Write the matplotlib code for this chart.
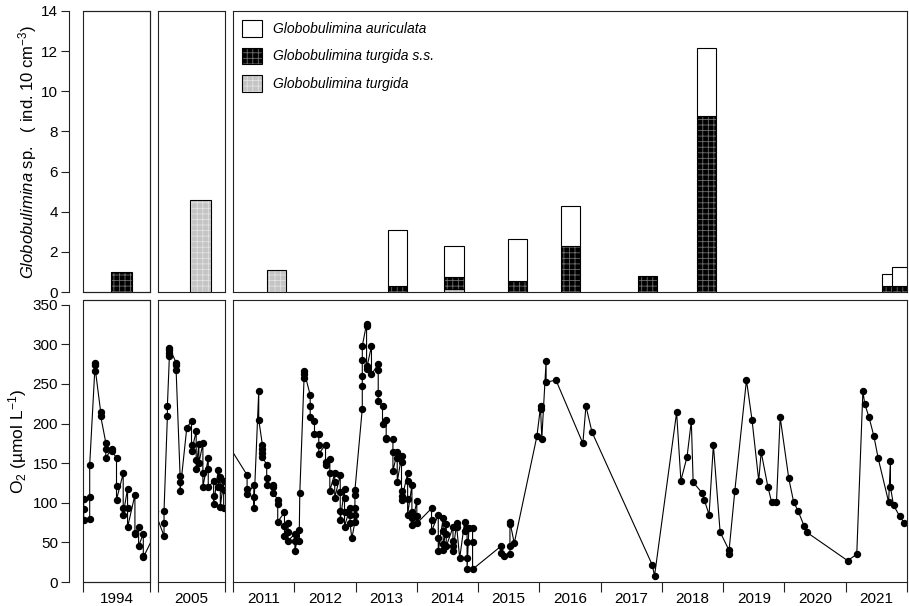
import numpy as np
import matplotlib.pyplot as plt
from matplotlib.patches import Patch, Rectangle
from matplotlib.legend_handler import HandlerTuple

plt.rcParams['font.family'] = ['Liberation Sans', 'DejaVu Sans']
plt.rcParams['mathtext.fontset'] = 'custom'
plt.rcParams['mathtext.rm'] = 'Liberation Sans'
plt.rcParams['mathtext.it'] = 'Liberation Sans:italic'
plt.rcParams['hatch.linewidth'] = 0.6

# Globobulimina densities (ind. 10 cm-3), stacked: turgida / turgida s.s. / auriculata
bar_date = [1994.58, 2005.63, 2011.70, 2013.65, 2014.56, 2015.58, 2016.44, 2017.68, 2018.63, 2021.61, 2021.77]
turgida = [0, 4.6, 1.1, 0, 0.15, 0, 0, 0, 0, 0, 0]
turgida_ss = [1.0, 0, 0, 0.3, 0.6, 0.55, 2.3, 0.8, 8.75, 0.3, 0.3]
auriculata = [0, 0, 0, 2.8, 1.55, 2.1, 2.0, 0, 3.4, 0.58, 0.93]
legend_labels = ['Globobulimina auriculata', 'Globobulimina turgida s.s.', 'Globobulimina turgida']

# bottom-water O2 (umol/L)
o2_1994_date = [1994.01, 1994.01, 1994.01, 1994.10, 1994.10, 1994.10, 1994.175, 1994.175, 1994.175,
                1994.265, 1994.265, 1994.34, 1994.34, 1994.34, 1994.43, 1994.43,
                1994.50, 1994.50, 1994.50, 1994.60, 1994.60, 1994.60, 1994.665, 1994.665, 1994.665,
                1994.775, 1994.775, 1994.775, 1994.83, 1994.83, 1994.90, 1994.90, 1994.90, 1995.05]
o2_1994 = [105, 92, 78, 80, 107, 148, 266, 277, 274,
           214, 209, 176, 168, 157, 168, 165,
           157, 121, 104, 137, 94, 85, 118, 94, 69,
           110, 62, 60, 70, 45, 61, 33, 31, 57]

o2_2005_date = [2004.95, 2005.09, 2005.09, 2005.09, 2005.14, 2005.14, 2005.17, 2005.17, 2005.17, 2005.17,
                2005.27, 2005.27, 2005.27, 2005.33, 2005.33, 2005.33, 2005.43,
                2005.50, 2005.50, 2005.50, 2005.57, 2005.57, 2005.57, 2005.61, 2005.61,
                2005.67, 2005.67, 2005.67, 2005.75, 2005.75, 2005.75, 2005.83, 2005.83, 2005.83,
                2005.90, 2005.90, 2005.93, 2005.93, 2005.93, 2005.98, 2005.98, 2005.98]
o2_2005 = [90, 58, 74, 90, 209, 222, 285, 289, 293, 296,
           277, 274, 268, 134, 126, 115, 195,
           203, 173, 165, 190, 154, 143, 174, 150,
           175, 137, 120, 156, 143, 120, 127, 109, 98,
           142, 120, 133, 120, 95, 128, 116, 93]

o2_main_date = [2010.90,
                2011.23, 2011.23, 2011.23, 2011.34, 2011.34, 2011.34, 2011.42, 2011.42,
                2011.48, 2011.48, 2011.48, 2011.48, 2011.55, 2011.55, 2011.55, 2011.66, 2011.66, 2011.66,
                2011.73, 2011.73, 2011.73, 2011.84, 2011.84, 2011.84, 2011.90, 2011.90, 2011.90,
                2012.01, 2012.01, 2012.01, 2012.08, 2012.08, 2012.09,
                2012.16, 2012.16, 2012.16, 2012.26, 2012.26, 2012.26, 2012.33, 2012.33,
                2012.40, 2012.40, 2012.40, 2012.51, 2012.51, 2012.51, 2012.58, 2012.58, 2012.58,
                2012.66, 2012.66, 2012.66, 2012.75, 2012.75, 2012.75, 2012.75,
                2012.82, 2012.82, 2012.82, 2012.82, 2012.91, 2012.91, 2012.91, 2012.94,
                2012.99, 2012.99, 2012.99, 2012.99, 2012.99,
                2013.11, 2013.11, 2013.11, 2013.11, 2013.11, 2013.18, 2013.18, 2013.18, 2013.18,
                2013.26, 2013.26, 2013.37, 2013.37, 2013.37, 2013.37, 2013.44, 2013.44,
                2013.50, 2013.50, 2013.50, 2013.61, 2013.61, 2013.61, 2013.68, 2013.68, 2013.68,
                2013.75, 2013.75, 2013.75, 2013.75, 2013.75, 2013.85, 2013.85, 2013.85, 2013.85,
                2013.92, 2013.92, 2013.92, 2013.92, 2014.00, 2014.00, 2014.00,
                2014.24, 2014.24, 2014.24, 2014.35, 2014.35, 2014.35, 2014.43, 2014.43, 2014.43, 2014.43,
                2014.48, 2014.48, 2014.48, 2014.59, 2014.59, 2014.59, 2014.59, 2014.65, 2014.65,
                2014.70, 2014.78, 2014.78, 2014.82, 2014.82, 2014.82, 2014.82, 2014.85,
                2014.91, 2014.91, 2014.91,
                2015.37, 2015.37, 2015.43, 2015.52, 2015.52, 2015.52, 2015.52, 2015.59,
                2015.96, 2016.02, 2016.02, 2016.04, 2016.11, 2016.11, 2016.27,
                2016.71, 2016.76, 2016.86, 2017.84, 2017.88,
                2018.24, 2018.31, 2018.41, 2018.48, 2018.51, 2018.66, 2018.69, 2018.77, 2018.84, 2018.95,
                2019.09, 2019.09, 2019.19, 2019.38, 2019.47, 2019.58, 2019.62, 2019.73, 2019.79, 2019.87,
                2019.93, 2020.07, 2020.15, 2020.22, 2020.32, 2020.36,
                2021.03, 2021.18, 2021.28, 2021.31, 2021.38, 2021.46, 2021.53,
                2021.70, 2021.73, 2021.73, 2021.78, 2021.88, 2021.95]
o2_main = [176,
           135, 118, 111, 122, 107, 93, 241, 205,
           173, 168, 163, 158, 148, 131, 123, 122, 120, 112,
           104, 98, 76, 88, 71, 58, 74, 63, 52,
           61, 52, 39, 66, 52, 112,
           258, 262, 266, 236, 222, 208, 203, 187,
           187, 173, 162, 173, 151, 148, 155, 137, 115,
           137, 126, 106, 135, 114, 90, 78,
           118, 106, 88, 70, 94, 85, 74, 55,
           76, 85, 93, 110, 116,
           219, 247, 260, 280, 298, 326, 323, 273, 269,
           298, 262, 275, 268, 239, 229, 222, 200,
           205, 182, 180, 180, 164, 140, 164, 156, 126,
           159, 152, 115, 109, 103, 137, 128, 105, 85,
           122, 88, 81, 72, 102, 83, 74,
           93, 78, 64, 85, 55, 39, 81, 64, 48, 41,
           73, 60, 45, 69, 52, 45, 39, 74, 70,
           30, 76, 64, 68, 51, 30, 16, 68,
           68, 51, 16,
           45, 36, 33, 35, 45, 73, 76, 49,
           184, 222, 218, 181, 279, 252, 255,
           175, 222, 189, 22, 8,
           214, 128, 158, 203, 126, 112, 104, 85, 173, 63,
           41, 35, 115, 255, 205, 128, 164, 120, 101, 101,
           208, 131, 101, 90, 71, 63,
           27, 35, 241, 225, 208, 184, 156,
           101, 153, 120, 97, 83, 75]

o2_series = [(o2_1994_date, o2_1994), (o2_2005_date, o2_2005), (o2_main_date, o2_main)]
year_labels = [[1994], [2005], list(range(2011, 2022))]

W, H = 909, 606
fig = plt.figure(figsize=(W / 100, H / 100), dpi=100)

# panel extents in pixels
cols = [(83, 150, 1994.0, 1995.0), (158, 225, 2005.0, 2006.0), (233, 907, 2011.0, 2021.86)]
rows = [(11, 292), (300, 582)]


def add_ax(x0, x1, y0, y1):
    return fig.add_axes([x0 / W, 1 - y1 / H, (x1 - x0) / W, (y1 - y0) / H])


def draw_bars(ax):
    x = np.array(bar_date)
    t = np.array(turgida, dtype=float)
    s = np.array(turgida_ss, dtype=float)
    a = np.array(auriculata, dtype=float)
    layers = [(t, 0 * t, '#c4c4c4', '#e2e2e2'),
              (s, t, 'black', '#6e6e6e'),
              (a, t + s, 'white', None)]
    for h, b, fc, hc in layers:
        m = h > 0
        if hc is not None:
            ax.bar(x[m], h[m], bottom=b[m], width=0.31, color=fc, edgecolor=hc,
                   hatch='+++', linewidth=0)
            ax.bar(x[m], h[m], bottom=b[m], width=0.31, color='none',
                   edgecolor='black', linewidth=0.8)
        else:
            ax.bar(x[m], h[m], bottom=b[m], width=0.31, color=fc,
                   edgecolor='black', linewidth=0.8)


edge = '#222222'
for i, (x0, x1, xa, xb) in enumerate(cols):
    top = add_ax(x0, x1, *rows[0])
    bot = add_ax(x0, x1, *rows[1])

    draw_bars(top)
    top.set_ylim(0, 14)
    top.set_xticks([])

    dates, vals = o2_series[i]
    bot.plot(dates, vals, '-o', color='black', lw=0.8, ms=4.3)
    bot.set_ylim(0, 356)

    for ax in (top, bot):
        ax.set_xlim(xa, xb)
        for sp in ax.spines.values():
            sp.set_color(edge)
            sp.set_linewidth(0.8)

    # bottom axis: ticks at year boundaries, labels centred in each year
    yrs = year_labels[i]
    bot.set_xticks([y for y in yrs] + [yrs[-1] + 1])
    bot.set_xticklabels([])
    bot.set_xticks([y + 0.5 for y in yrs], minor=True)
    bot.set_xticklabels([str(y) for y in yrs], minor=True, fontsize=11)
    bot.tick_params(axis='x', which='major', direction='out', length=7, width=0.8, color=edge)
    bot.tick_params(axis='x', which='minor', length=0, pad=7)

    if i == 0:
        for ax, lim, ticks in ((top, 14, np.arange(0, 15, 2)), (bot, 350, np.arange(0, 351, 50))):
            ax.spines['left'].set_position(('outward', 10))
            ax.spines['left'].set_bounds(0, lim)
            ax.add_patch(Rectangle((0, 0), 1, 1, transform=ax.transAxes, fill=False,
                                   lw=0.8, edgecolor=edge, clip_on=False))
            ax.set_yticks(ticks)
            ax.tick_params(axis='y', direction='out', length=6, width=0.8, color=edge,
                           labelsize=11, pad=2)
        top.set_ylabel(r'$\mathit{Globobulimina}$ sp.   ( ind. 10 cm$^{\mathrm{-3}}$)', fontsize=12)
        top.yaxis.set_label_coords(-0.66, 0.5)
        bot.set_ylabel(r'O$_{\mathrm{2}}$ (µmol L$^{\mathrm{-1}}$)', fontsize=12.5)
        bot.yaxis.set_label_coords(-0.80, 0.5)
    else:
        top.set_yticks([])
        bot.set_yticks([])

    if i == 2:
        handles = [Patch(facecolor='white', edgecolor='black', lw=0.8),
                   (Patch(facecolor='black', edgecolor='#6e6e6e', hatch='+++', lw=0),
                    Patch(facecolor='none', edgecolor='black', lw=0.8)),
                   (Patch(facecolor='#c4c4c4', edgecolor='#e2e2e2', hatch='+++', lw=0),
                    Patch(facecolor='none', edgecolor='black', lw=0.8))]
        top.legend(handles, legend_labels, handler_map={tuple: HandlerTuple(ndivide=1, pad=0)},
                   loc='upper left', frameon=False, prop={'style': 'italic', 'size': 10},
                   handlelength=1.45, handleheight=1.45, labelspacing=0.8,
                   handletextpad=0.75, borderpad=0, borderaxespad=0.65)

fig.savefig('out.png', dpi=100)
